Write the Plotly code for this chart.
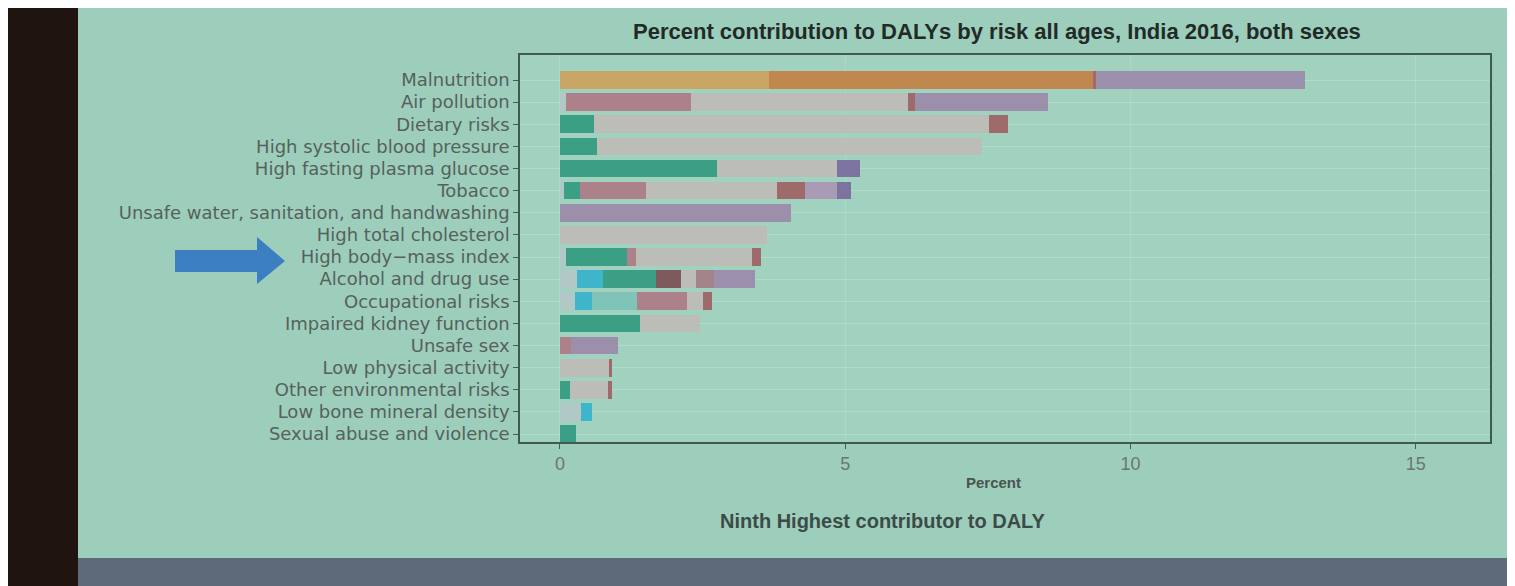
import plotly.graph_objects as go

# risk factors, top to bottom
RISKS = ['Malnutrition', 'Air pollution', 'Dietary risks', 'High systolic blood pressure',
         'High fasting plasma glucose', 'Tobacco', 'Unsafe water, sanitation, and handwashing',
         'High total cholesterol', 'High body\u2212mass index', 'Alcohol and drug use',
         'Occupational risks', 'Impaired kidney function', 'Unsafe sex', 'Low physical activity',
         'Other environmental risks', 'Low bone mineral density', 'Sexual abuse and violence']

# segment widths (percent of DALYs) per cause group, in stacking order
seg_a = [0, 0.10, 0, 0, 0, 0.07, 0, 0, 0.10, 0.30, 0.27, 0, 0, 0, 0, 0.37, 0]
seg_b = [0, 0, 0, 0, 0, 0, 0, 0, 0, 0.45, 0.30, 0, 0, 0, 0, 0.20, 0]
seg_c = [0, 0, 0, 0, 0, 0, 0, 0, 0, 0, 0.78, 0, 0, 0, 0, 0, 0]
seg_d = [0, 0, 0.60, 0.65, 2.75, 0.28, 0, 0, 1.07, 0.93, 0, 1.40, 0, 0, 0.17, 0, 0.28]
seg_e = [3.66, 0, 0, 0, 0, 0, 0, 0, 0, 0, 0, 0, 0, 0, 0, 0, 0]
seg_f = [5.69, 0, 0, 0, 0, 0, 0, 0, 0, 0, 0, 0, 0, 0, 0, 0, 0]
seg_g = [0, 2.20, 0, 0, 0, 1.15, 0, 0, 0.16, 0, 0.88, 0, 0.20, 0, 0, 0, 0]
seg_h = [0, 0, 0, 0, 0, 0, 0, 0, 0, 0.45, 0, 0, 0, 0, 0, 0, 0]
seg_i = [0, 3.80, 6.92, 6.75, 2.10, 2.30, 0, 3.63, 2.04, 0.25, 0.27, 1.05, 0, 0.86, 0.68, 0, 0]
seg_n = [0, 0, 0, 0, 0, 0, 0, 0, 0, 0.32, 0, 0, 0, 0, 0, 0, 0]
seg_j = [0.05, 0.13, 0.33, 0, 0, 0.50, 0, 0, 0.15, 0, 0.17, 0, 0, 0.06, 0.06, 0, 0]
seg_k = [0, 0, 0, 0, 0, 0.55, 0, 0, 0, 0, 0, 0, 0, 0, 0, 0, 0]
seg_l = [3.65, 2.32, 0, 0, 0, 0, 4.05, 0, 0, 0.72, 0, 0, 0.82, 0, 0, 0, 0]
seg_m = [0, 0, 0, 0, 0.40, 0.25, 0, 0, 0, 0, 0, 0, 0, 0, 0, 0, 0]

SEGS = [
    (seg_a, '#b2c8c6'), (seg_b, '#3fb5cc'), (seg_c, '#7fc4b6'), (seg_d, '#3a9f84'),
    (seg_e, '#c9a565'), (seg_f, '#c0874f'), (seg_g, '#ad8189'), (seg_h, '#7d5a5c'),
    (seg_i, '#bcbdb7'), (seg_n, '#a3838a'), (seg_j, '#9e6b6a'), (seg_k, '#a99bb3'),
    (seg_l, '#9b8fac'), (seg_m, '#7c73a0'),
]

W, H = 1515, 586
OFF = 8  # page body margin
L, R, T, B = 520, 1490, 55, 442  # plot box in screen pixels
NARROW = 'Liberation Sans Narrow, Liberation Sans'


def px(x):
    return (x - L) / (R - L)


def py(y):
    return (B - y) / (B - T)


fig = go.Figure()
for vals, col in SEGS:
    fig.add_trace(go.Bar(y=RISKS, x=vals, orientation='h', marker_color=col,
                         marker_line_width=0, showlegend=False, width=0.8))

fig.update_layout(
    barmode='stack', width=W, height=H,
    margin=dict(l=L - OFF, r=W - (R - OFF), t=T - OFF, b=H - (B - OFF)),
    paper_bgcolor='#9dcebb', plot_bgcolor='#a1d2bf',
    font=dict(family='DejaVu Sans', color='#55605c'),
)
fig.update_xaxes(range=[-0.7, 16.3], tickvals=[0, 5, 10, 15], ticks='outside', ticklen=5,
                 tickcolor='#4a5a55', tickfont=dict(size=18, color='#6b7672', family=NARROW),
                 showgrid=True, gridcolor='rgba(255,255,255,0.12)', zeroline=False,
                 showline=True, mirror=True, linecolor='#3f5a52', linewidth=1.5)
fig.update_yaxes(categoryorder='array', categoryarray=RISKS, range=[16.36, -1.13],
                 ticks='outside', ticklen=5, tickcolor='#4a5a55',
                 tickfont=dict(size=18, color='#56615d'),
                 showgrid=True, gridcolor='rgba(255,255,255,0.2)',
                 showline=True, mirror=True, linecolor='#3f5a52', linewidth=1.5)


def label(text, x, y, size, color):
    fig.add_annotation(text=text, xref='paper', yref='paper', x=px(x), y=py(y),
                       xanchor='center', yanchor='middle', showarrow=False,
                       font=dict(size=size, color=color, family=NARROW))


label('<b>Percent contribution to DALYs by risk all ages, India 2016, both sexes</b>', 997, 32, 22, '#222a27')
label('<b>Percent</b>', 993, 483, 15, '#4a5551')
label('<b>Ninth Highest contributor to DALY</b>', 882, 521, 20, '#3c4a48')

# arrow pointing at the ninth row
pts = [(175, 250), (257, 250), (257, 237), (285, 261), (257, 284), (257, 272), (175, 272)]
path = 'M ' + ' L '.join(f'{px(a):.5f},{py(b):.5f}' for a, b in pts) + ' Z'
fig.add_shape(type='path', path=path, xref='paper', yref='paper',
              fillcolor='#3b7fc2', line_width=0)

# the room around the projected slide
fig.add_shape(type='rect', xref='paper', yref='paper', x0=px(0), x1=px(W + 20), y0=py(558), y1=py(H + 20),
              fillcolor='#5e6979', line_width=0)
fig.add_shape(type='rect', xref='paper', yref='paper', x0=px(7), x1=px(78), y0=py(0), y1=py(H + 20),
              fillcolor='#1f140f', line_width=0)
fig.add_shape(type='rect', xref='paper', yref='paper', x0=px(1507), x1=px(W + 20), y0=py(0), y1=py(H + 20),
              fillcolor='#ffffff', line_width=0)

fig.write_html('out.html')
